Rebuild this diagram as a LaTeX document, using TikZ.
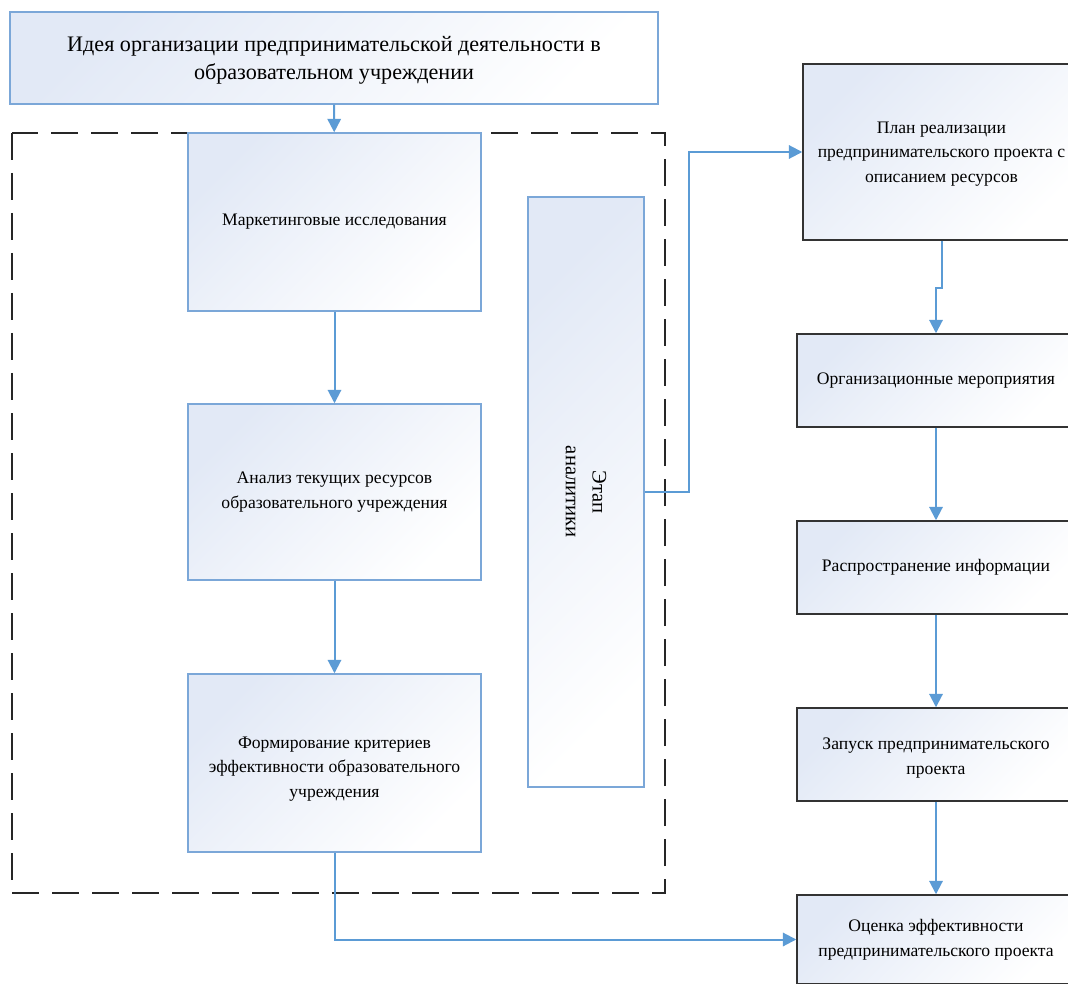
\documentclass[tikz,border=0pt]{standalone}
\usepackage{fontspec}
\setmainfont{Liberation Serif}
\usetikzlibrary{arrows.meta}
\definecolor{bblue}{HTML}{7BA7D8}
\definecolor{ablue}{HTML}{5B9BD5}
\definecolor{fblue}{HTML}{E2E9F6}
\definecolor{rdark}{HTML}{333333}
\tikzset{
  shadebox/.style={top color=fblue, bottom color=white, shading angle=45, inner sep=0pt, align=center},
  lbox/.style={shadebox, draw=bblue, line width=1.1pt, font=\fontsize{13.2}{18.5}\selectfont},
  rbox/.style={shadebox, draw=rdark, line width=1.1pt, font=\fontsize{13.2}{18.5}\selectfont},
  txt/.style={inner sep=0pt, align=center, font=\fontsize{13.2}{18.5}\selectfont},
  arr/.style={draw=ablue, line width=1.5pt, -{Triangle[length=10pt,width=10pt]}},
  dashbox/.style={draw=black!85, line width=1pt, dash pattern=on 20pt off 10pt}
}
\begin{document}
\begin{tikzpicture}[x=0.75pt,y=-0.75pt]
\clip (0,0) rectangle (1068,984);
\fill[white] (0,0) rectangle (1068,984);

\draw[dashbox] (12,133) rectangle (665,893);

\node[lbox, minimum width=486pt, minimum height=69pt] (top) at (334,58) {};
\node[txt, font=\fontsize{16.6}{21}\selectfont] (toptxt) at (334,60)
  {Идея организации предпринимательской деятельности в\\образовательном учреждении};
\node[lbox, minimum width=219.75pt, minimum height=133.5pt] (box1) at (334.5,222) {Маркетинговые исследования};
\node[lbox, minimum width=219.75pt, minimum height=132pt] (box2) at (334.5,492) {Анализ текущих ресурсов\\образовательного учреждения};
\node[lbox, minimum width=219.75pt, minimum height=133.5pt] (box3) at (334.5,763) {};
\node[txt] (box3txt) at (334.5,769) {Формирование критериев\\эффективности образовательного\\учреждения};
\node[lbox, minimum width=87pt, minimum height=442.5pt] (vert) at (586,492) {};
\node[rotate=-90, align=center, inner sep=0pt, font=\fontsize{15.5}{20}\selectfont] (vertlbl) at (vert.center) {Этап\\аналитики};

\node[rbox, minimum width=207.75pt, minimum height=132pt] (plan) at (941.5,152) {};
\node[txt] (plantxt) at (941.5,154) {План реализации\\предпринимательского проекта с\\описанием ресурсов};
\node[rbox, minimum width=208.5pt, minimum height=69.75pt] (org) at (936,380.5) {Организационные мероприятия};
\node[rbox, minimum width=208.5pt, minimum height=69.75pt] (rasp) at (936,567.5) {Распространение информации};
\node[rbox, minimum width=208.5pt, minimum height=69.75pt] (zap) at (936,754.5) {};
\node[txt] (zaptxt) at (936,758) {Запуск предпринимательского\\проекта};
\node[rbox, minimum width=208.5pt, minimum height=66.75pt] (ocen) at (936,939.5) {Оценка эффективности\\предпринимательского проекта};

\draw[arr] (top) -- (box1);
\draw[arr] (box1) -- (box2);
\draw[arr] (box2) -- (box3);
\draw[arr] (box3.south) |- (ocen.west);
\draw[arr] (vert.east) -- (689,492) |- (plan.west);
\draw[arr] (plan.south) -- (941.5,288) -| (org.north);
\draw[arr] (org) -- (rasp);
\draw[arr] (rasp) -- (zap);
\draw[arr] (zap) -- (ocen);
\end{tikzpicture}
\end{document}
